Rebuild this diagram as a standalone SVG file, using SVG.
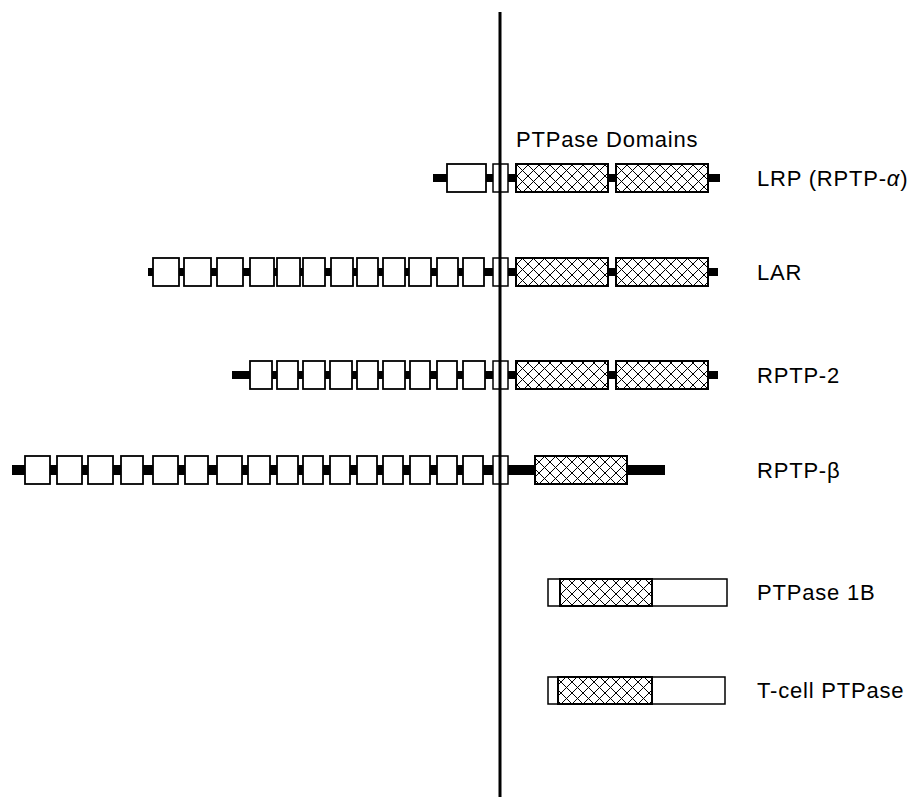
<svg xmlns="http://www.w3.org/2000/svg" width="912" height="797" viewBox="0 0 912 797">
<style>
.bar{fill:#000}
.ig{fill:#fff;stroke:#000;stroke-width:1.8}
.tm{fill:#fff;stroke:#000;stroke-width:1.5}
.dom{fill:url(#hatch);stroke:#000;stroke-width:2}
.cyt{fill:#fff;stroke:#000;stroke-width:1.5}
.lbl{font-family:"Liberation Sans",Arial,sans-serif;font-size:22px;fill:#000;letter-spacing:0.8px}
</style>
<defs>
<pattern id="hatch" width="11" height="11" patternUnits="userSpaceOnUse">
<rect width="11" height="11" fill="#fff"/>
<path d="M0,0 L11,11 M11,0 L0,11" stroke="#000" stroke-width="1"/>
</pattern>
</defs>
<rect width="912" height="797" fill="#fff"/>

<g id="title">
<text class="lbl" x="516" y="147">PTPase Domains</text>
</g>

<g id="lrp">
<rect class="bar" x="433" y="174" width="287" height="8"/>
<rect class="ig" x="447" y="164" width="39" height="28"/>
<rect class="tm" x="493" y="164" width="15" height="28"/>
<rect class="dom" x="516" y="164" width="92" height="28"/>
<rect class="dom" x="616" y="164" width="92" height="28"/>
<text class="lbl" x="757" y="186">LRP (RPTP-<tspan font-style="italic">α</tspan>)</text>
</g>

<g id="lar">
<rect class="bar" x="148" y="268" width="570" height="8"/>
<rect class="ig" x="153" y="258" width="26" height="28"/>
<rect class="ig" x="184" y="258" width="27" height="28"/>
<rect class="ig" x="217" y="258" width="26" height="28"/>
<rect class="ig" x="250" y="258" width="24" height="28"/>
<rect class="ig" x="277" y="258" width="23" height="28"/>
<rect class="ig" x="303" y="258" width="22" height="28"/>
<rect class="ig" x="331" y="258" width="22" height="28"/>
<rect class="ig" x="357" y="258" width="21" height="28"/>
<rect class="ig" x="383" y="258" width="22" height="28"/>
<rect class="ig" x="409" y="258" width="22" height="28"/>
<rect class="ig" x="437" y="258" width="21" height="28"/>
<rect class="ig" x="463" y="258" width="21" height="28"/>
<rect class="tm" x="493" y="258" width="15" height="28"/>
<rect class="dom" x="516" y="258" width="92" height="28"/>
<rect class="dom" x="616" y="258" width="92" height="28"/>
<text class="lbl" x="757" y="280">LAR</text>
</g>

<g id="rptp2">
<rect class="bar" x="232" y="371" width="486" height="8"/>
<rect class="ig" x="250" y="361" width="22" height="28"/>
<rect class="ig" x="277" y="361" width="21" height="28"/>
<rect class="ig" x="303" y="361" width="22" height="28"/>
<rect class="ig" x="330" y="361" width="22" height="28"/>
<rect class="ig" x="357" y="361" width="21" height="28"/>
<rect class="ig" x="383" y="361" width="22" height="28"/>
<rect class="ig" x="410" y="361" width="20" height="28"/>
<rect class="ig" x="437" y="361" width="20" height="28"/>
<rect class="ig" x="463" y="361" width="22" height="28"/>
<rect class="tm" x="493" y="361" width="15" height="28"/>
<rect class="dom" x="516" y="361" width="92" height="28"/>
<rect class="dom" x="616" y="361" width="92" height="28"/>
<text class="lbl" x="757" y="383">RPTP-2</text>
</g>

<g id="rptpb">
<rect class="bar" x="12" y="465" width="653" height="10"/>
<rect class="ig" x="25" y="456" width="25" height="28"/>
<rect class="ig" x="57" y="456" width="25" height="28"/>
<rect class="ig" x="88" y="456" width="25" height="28"/>
<rect class="ig" x="121" y="456" width="22" height="28"/>
<rect class="ig" x="153" y="456" width="25" height="28"/>
<rect class="ig" x="185" y="456" width="23" height="28"/>
<rect class="ig" x="217" y="456" width="25" height="28"/>
<rect class="ig" x="248" y="456" width="22" height="28"/>
<rect class="ig" x="277" y="456" width="21" height="28"/>
<rect class="ig" x="303" y="456" width="20" height="28"/>
<rect class="ig" x="330" y="456" width="20" height="28"/>
<rect class="ig" x="357" y="456" width="20" height="28"/>
<rect class="ig" x="383" y="456" width="20" height="28"/>
<rect class="ig" x="410" y="456" width="20" height="28"/>
<rect class="ig" x="437" y="456" width="20" height="28"/>
<rect class="ig" x="463" y="456" width="20" height="28"/>
<rect class="tm" x="493" y="456" width="15" height="28"/>
<rect class="dom" x="535" y="456" width="92" height="28"/>
<text class="lbl" x="757" y="478">RPTP-β</text>
</g>

<g id="ptp1b">
<rect class="cyt" x="548" y="579" width="179" height="27"/>
<rect class="dom" x="560" y="579" width="92" height="27"/>
<text class="lbl" x="757" y="600">PTPase 1B</text>
</g>

<g id="tcell">
<rect class="cyt" x="548" y="677" width="177" height="27"/>
<rect class="dom" x="558" y="677" width="94" height="27"/>
<text class="lbl" x="757" y="698">T-cell PTPase</text>
</g>

<g id="connectors">
<line x1="500" y1="12" x2="500" y2="797" stroke="#000" stroke-width="3"/>
</g>
</svg>
